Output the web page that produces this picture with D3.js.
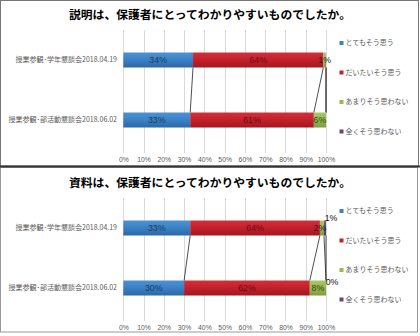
<!DOCTYPE html>
<html><head><meta charset="utf-8">
<script src="https://cdn.jsdelivr.net/npm/d3@7"></script>
<style>
html,body{margin:0;padding:0;background:#fff;}
svg{display:block;font-family:"Noto Sans CJK JP","Noto Sans",sans-serif;}
</style></head>
<body>
<svg id="c" width="420" height="336"></svg>
<script>
const titles = ["説明は、保護者にとってわかりやすいものでしたか。", "資料は、保護者にとってわかりやすいものでしたか。"];
const categories = ["授業参観･学年懇談会2018.04.19", "授業参観･部活動懇談会2018.06.02"];
const seriesNames = ["とてもそう思う", "だいたいそう思う", "あまりそう思わない", "全くそう思わない"];
// values in % per chart: [category][series]
const chart1Values = [[34.4, 64.3, 1.3, 0], [33, 61, 6, 0]];
const chart1Labels = [["34%", "64%", "1%", null], ["33%", "61%", "6%", null]];
const chart2Values = [[33, 64, 2, 1], [30, 62, 8, 0]];
const chart2Labels = [["33%", "64%", "2%", "1%"], ["30%", "62%", "8%", "0%"]];
const tickValues = [0,10,20,30,40,50,60,70,80,90,100];

const colors = [
  {top:"#4d93d3", mid:"#3a80c4", bot:"#2b68a6", text:"#1f3a60"},
  {top:"#d2303a", mid:"#c2202a", bot:"#a3161f", text:"#6b0d12"},
  {top:"#a8c86a", mid:"#97b852", bot:"#7f9c3e", text:"#2f4a10"},
  {top:"#7a64a0", mid:"#604a7b", bot:"#4b3a62", text:"#222"}
];

const svg = d3.select("#c");
const defs = svg.append("defs");
colors.forEach((c,i)=>{
  const g = defs.append("linearGradient").attr("id","g"+i).attr("x1",0).attr("y1",0).attr("x2",0).attr("y2",1);
  g.append("stop").attr("offset","0%").attr("stop-color",c.top);
  g.append("stop").attr("offset","50%").attr("stop-color",c.mid);
  g.append("stop").attr("offset","100%").attr("stop-color",c.bot);
});

// frames
svg.append("rect").attr("x",0.5).attr("y",0.5).attr("width",418).attr("height",165.5)
  .attr("fill","none").attr("stroke","#777").attr("stroke-width",1);
svg.append("rect").attr("x",0.5).attr("y",167.5).attr("width",417).attr("height",164.5)
  .attr("fill","none").attr("stroke","#999").attr("stroke-width",1);
svg.append("line").attr("x1",0).attr("x2",420).attr("y1",166.5).attr("y2",166.5)
  .attr("stroke","#333").attr("stroke-width",2);

const x = d3.scaleLinear().domain([0,100]).range([123.3,326]);

function drawChart(offY, title, values, labels, extraOffsets){
  const g = svg.append("g").attr("transform",`translate(0,${offY})`);
  g.append("text").attr("x",210).attr("y",19).attr("text-anchor","middle")
    .attr("font-size","11.8px").attr("font-weight","bold").attr("fill","#000").text(title);

  const y = d3.scaleBand().domain(categories).range([30,150]).paddingInner(0.75).paddingOuter(0.375);

  // gridlines
  g.append("g").selectAll("line").data(tickValues).join("line")
    .attr("x1",d=>Math.round(x(d))+0.5).attr("x2",d=>Math.round(x(d))+0.5)
    .attr("y1",30).attr("y2",153).attr("stroke","#d9d9d9").attr("stroke-width",1);

  // axis
  const ax = g.append("g").attr("transform","translate(0,153)")
    .call(d3.axisBottom(x).tickValues(tickValues).tickFormat(d=>d+"%").tickSize(0).tickPadding(4));
  ax.select(".domain").remove();
  ax.selectAll("text").attr("font-size","6.8px").attr("fill","#595959")
    .attr("font-family","Liberation Sans, Arial, sans-serif");

  // category labels
  g.append("g").selectAll("text").data(categories).join("text")
    .attr("x",117).attr("y",d=>y(d)+y.bandwidth()/2).attr("dy","0.35em")
    .attr("text-anchor","end").attr("font-size","7px").attr("fill","#595959").text(d=>d);

  // stacked data
  const stacks = values.map(row=>{
    let acc=0; return row.map(v=>{const s={x0:acc,x1:acc+v}; acc+=v; return s;});
  });

  // series lines
  for(let s=0;s<seriesNames.length;s++){
    const a = stacks[0][s], b = stacks[1][s];
    g.append("line")
      .attr("x1",x(a.x1)).attr("y1",y(categories[0])+y.bandwidth())
      .attr("x2",x(b.x1)).attr("y2",y(categories[1]))
      .attr("stroke","#222").attr("stroke-width",0.8);
  }

  // bars
  categories.forEach((cat,ci)=>{
    stacks[ci].forEach((st,si)=>{
      if(st.x1-st.x0<=0) return;
      g.append("rect").attr("x",x(st.x0)).attr("y",y(cat))
        .attr("width",x(st.x1)-x(st.x0)).attr("height",y.bandwidth())
        .attr("fill",`url(#g${si})`);
    });
  });

  // labels
  categories.forEach((cat,ci)=>{
    stacks[ci].forEach((st,si)=>{
      const lab = labels[ci][si];
      if(!lab) return;
      const off = extraOffsets[ci+"-"+si] || [0,0];
      g.append("text").attr("x",x((st.x0+st.x1)/2)+off[0])
        .attr("y",y(cat)+y.bandwidth()/2+off[1]).attr("dy","0.35em")
        .attr("text-anchor","middle").attr("font-size","8.8px")
        .attr("font-family","Liberation Sans, Arial, sans-serif")
        .attr("fill", off[2] || colors[si].text).text(lab);
    });
  });

  // legend
  const lg = g.append("g");
  const ly = [43,72.5,102,131.5];
  seriesNames.forEach((n,i)=>{
    lg.append("rect").attr("x",339.5).attr("y",ly[i]-2).attr("width",4).attr("height",4).attr("fill",colors[i].mid);
    lg.append("text").attr("x",345.5).attr("y",ly[i]).attr("dy","0.35em")
      .attr("font-size","7px").attr("fill","#595959").text(n);
  });
}

drawChart(0, titles[0], chart1Values, chart1Labels, {"0-2":[0,0,"#222"]});
drawChart(168, titles[1], chart2Values, chart2Labels, {"0-2":[-2,0,"#222"], "0-3":[6,-10,"#111"], "1-3":[6,-6,"#111"]});
</script>
</body></html>
